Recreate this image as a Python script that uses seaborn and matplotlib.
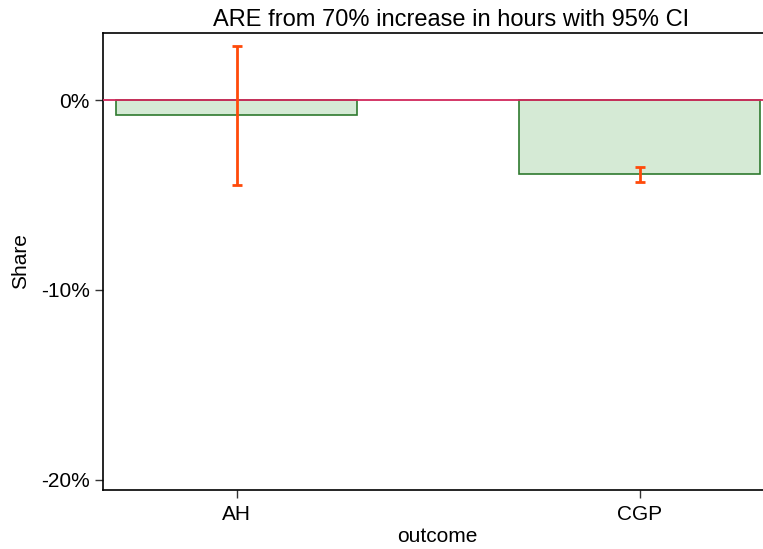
import matplotlib
matplotlib.use("Agg")
import matplotlib.pyplot as plt
import seaborn as sns
import pandas as pd
import numpy as np

outcomes = ["AH", "CGP"]
share = [-0.79, -3.90]
ci_low = [-4.47, -4.33]
ci_high = [2.83, -3.50]
yticks = [0, -10, -20]
ytick_labels = ["0%", "-10%", "-20%"]

sns.set_style("ticks")
plt.rcParams['font.family'] = ['Liberation Sans', 'DejaVu Sans']
plt.rcParams['text.color'] = 'black'
plt.rcParams['axes.labelcolor'] = 'black'
plt.rcParams['xtick.color'] = 'black'
plt.rcParams['ytick.color'] = 'black'

W, H = 763, 549
fig = plt.figure(figsize=(W / 100, H / 100), dpi=100)
left_px, right_px, top_px, bot_px = 103, 790, 33, 490
ax = fig.add_axes([left_px / W, 1 - bot_px / H, (right_px - left_px) / W, (bot_px - top_px) / H])

df = pd.DataFrame({"outcome": outcomes, "share": share})
sns.barplot(data=df, x="outcome", y="share", ax=ax, width=0.6,
            color="#d5ead5", edgecolor="#2f7a2f", linewidth=1.2, saturation=1)

ax.axhline(0, color="#d1285c", lw=1.3, zorder=3)

xs = np.arange(len(outcomes))
mid = [(l + h) / 2 for l, h in zip(ci_low, ci_high)]
err = [(h - l) / 2 for l, h in zip(ci_low, ci_high)]
ax.errorbar(xs, mid, yerr=err, fmt="none", ecolor="#ff4a0a", elinewidth=2,
            capsize=3.5, capthick=2, zorder=4)

px_per_unit = 403
x0 = -(236.5 - left_px) / px_per_unit
ax.set_xlim(x0, x0 + (right_px - left_px) / px_per_unit)
ax.set_ylim(-20.53, 3.53)
ax.set_yticks(yticks)
ax.set_yticklabels(ytick_labels)
ax.tick_params(axis="both", labelsize=15, length=6, width=1, color="#333333")
ax.tick_params(axis="x", pad=5)
ax.set_ylabel("Share", fontsize=15, labelpad=8)
ax.set_xlabel("outcome", fontsize=15, labelpad=2)
ax.xaxis.set_label_coords((437.5 - left_px) / (right_px - left_px), -0.082)
ax.set_title("ARE from 70% increase in hours with 95% CI", fontsize=17, pad=5,
             x=(451 - left_px) / (right_px - left_px))
for s in ["left", "bottom", "top"]:
    ax.spines[s].set_linewidth(1.2)
    ax.spines[s].set_color("black")
ax.spines["right"].set_visible(False)

fig.savefig("out.png", dpi=100)
